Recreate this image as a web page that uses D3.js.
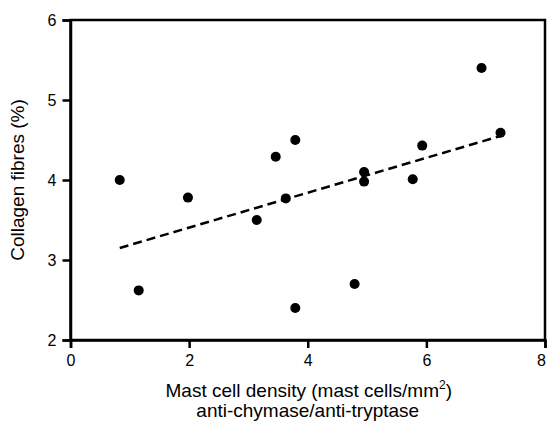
<!DOCTYPE html>
<html>
<head>
<meta charset="utf-8">
<script src="https://cdn.jsdelivr.net/npm/d3@7"></script>
<style>
  body { margin: 0; background: #fff; overflow: hidden; }
  text { font-family: "Liberation Sans", Arial, sans-serif; fill: #000; }
</style>
</head>
<body>
<div id="chart"></div>
<script>
// mast cell density (x) vs collagen fibres (y)
var density = [0.83, 1.15, 1.98, 3.14, 3.46, 3.63, 3.79, 3.79, 4.79, 4.95, 4.95, 5.77, 5.93, 6.93, 7.25];
var collagen = [4.00, 2.62, 3.78, 3.50, 4.29, 3.77, 4.50, 2.40, 2.70, 4.10, 3.98, 4.01, 4.43, 5.40, 4.59];
// fitted line end points
var fitX = [0.83, 7.25];
var fitY = [3.15, 4.55];
var xTicks = [0, 2, 4, 6, 8];
var yTicks = [2, 3, 4, 5, 6];

let width = 548;
let height = 421;
let margin = {top: 20, right: 2, bottom: 81, left: 70.5};

var svg = d3.select("#chart")
    .append("svg")
    .attr("width", width)
    .attr("height", height);

var x = d3.scaleLinear().domain([0, 8]).range([margin.left, width - margin.right - 1]);
var y = d3.scaleLinear().domain([2, 6]).range([height - margin.bottom, margin.top]);

// frame
svg.append("rect")
    .attr("x", x(0))
    .attr("y", y(6))
    .attr("width", x(8) - x(0))
    .attr("height", y(2) - y(6))
    .attr("fill", "none")
    .attr("stroke", "#000")
    .attr("stroke-width", 2.5);

var xAxis = svg.append("g")
    .attr("transform", "translate(0," + y(2) + ")")
    .call(d3.axisBottom(x).tickValues(xTicks).tickSize(8).tickPadding(7).tickFormat(d3.format("d")));
var yAxis = svg.append("g")
    .attr("transform", "translate(" + x(0) + ",0)")
    .call(d3.axisLeft(y).tickValues(yTicks).tickSize(8).tickPadding(6).tickFormat(d3.format("d")));

[xAxis, yAxis].forEach(function (a) {
    a.select(".domain").attr("stroke-width", 2.5);
    a.selectAll(".tick line").attr("stroke-width", 2.5);
    a.selectAll(".tick text").style("font-size", "16px").attr("fill", "#000")
        .style("font-family", "'Liberation Sans', Arial, sans-serif");
});
// last x label sits at the right edge, pull it in a little
xAxis.selectAll(".tick text").filter(d => d == 8).attr("dx", -4);

// regression line
var fit = fitX.map((d, i) => [d, fitY[i]]);
svg.append("path")
    .datum(fit)
    .attr("d", d3.line().x(d => x(d[0])).y(d => y(d[1])))
    .attr("fill", "none")
    .attr("stroke", "#000")
    .attr("stroke-width", 2.5)
    .attr("stroke-dasharray", "9,5");

// points
svg.selectAll(".dot")
    .data(density.map((d, i) => ({x: d, y: collagen[i]})))
    .enter().append("circle")
    .attr("class", "dot")
    .attr("cx", d => x(d.x))
    .attr("cy", d => y(d.y))
    .attr("r", 5)
    .attr("fill", "#000");

// axis titles
svg.append("text")
    .attr("transform", "translate(24," + (margin.top + (y(2) - margin.top) / 2) + ") rotate(-90)")
    .attr("text-anchor", "middle")
    .style("font-size", "19px")
    .text("Collagen fibres (%)");

var xt = svg.append("text")
    .attr("x", (x(0) + x(8)) / 2 + 1)
    .attr("y", 397)
    .attr("text-anchor", "middle")
    .style("font-size", "19px");
xt.append("tspan").text("Mast cell density (mast cells/mm");
xt.append("tspan").attr("dy", -8).style("font-size", "12px").text("2");
xt.append("tspan").attr("dy", 8).text(")");

svg.append("text")
    .attr("x", (x(0) + x(8)) / 2)
    .attr("y", 417)
    .attr("text-anchor", "middle")
    .style("font-size", "19px")
    .text("anti-chymase/anti-tryptase");
</script>
</body>
</html>
